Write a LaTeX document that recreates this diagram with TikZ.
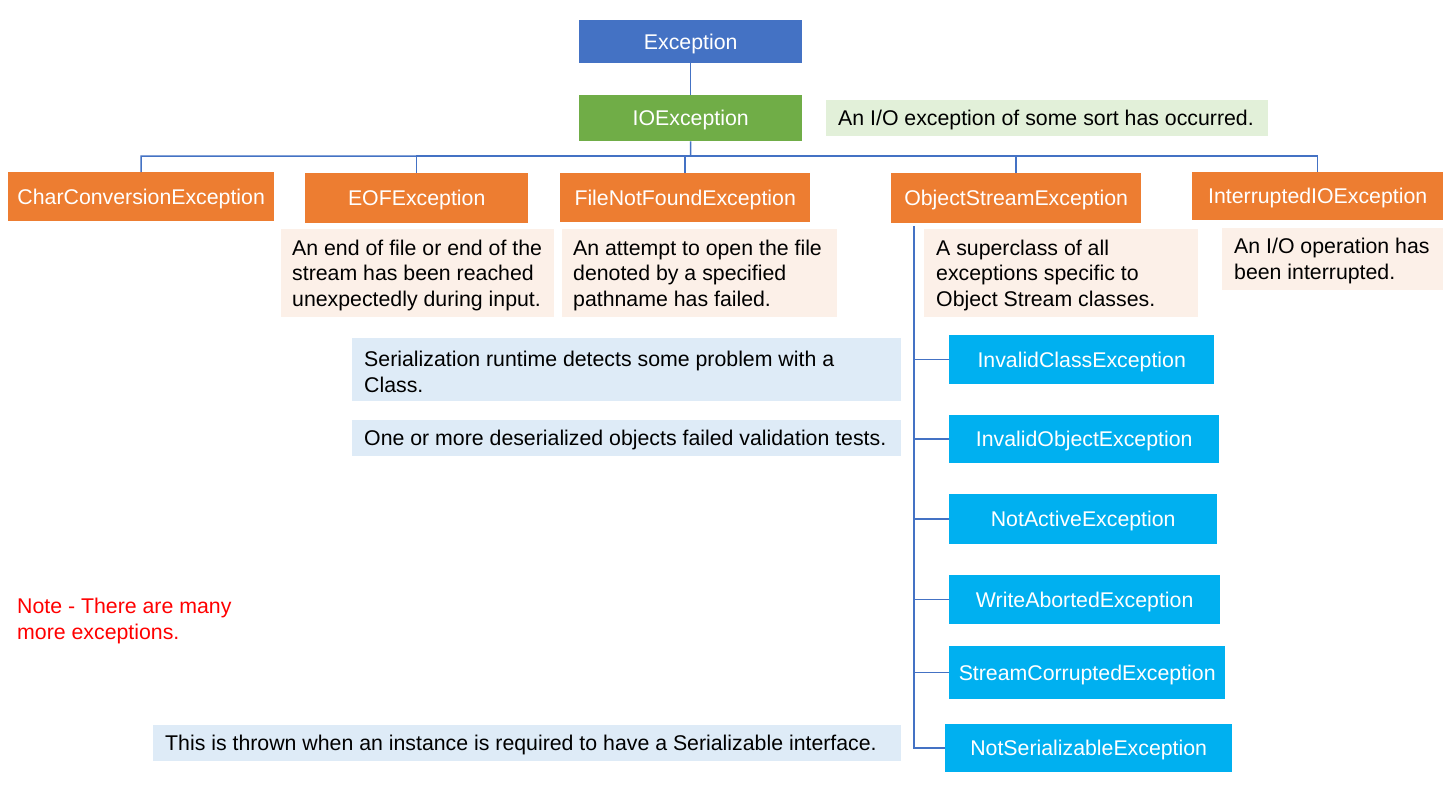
\documentclass[tikz,border=0pt]{standalone}
\usepackage{fontspec}
\setmainfont{Liberation Sans}
\newcommand\myfs{\fontsize{21.3}{25.5}\selectfont}
\definecolor{blueA}{HTML}{4472C4}
\definecolor{greenA}{HTML}{70AD47}
\definecolor{orangeA}{HTML}{ED7D31}
\definecolor{cyanA}{HTML}{00B0F0}
\definecolor{greenN}{HTML}{E2F0D9}
\definecolor{peachN}{HTML}{FCF0E8}
\definecolor{blueN}{HTML}{DEEBF7}
\definecolor{lineC}{HTML}{4472C4}
\definecolor{redT}{HTML}{FF0000}
\tikzset{
  box/.style={rectangle, inner sep=0pt, anchor=north west, text=white, font=\myfs, text height=19.5pt, text depth=4.5pt},
  cls/.style={box, fill=orangeA},
  sub/.style={box, fill=cyanA},
  notebox/.style={rectangle, inner sep=0pt, anchor=north west, draw=none},
  notetext/.style={inner sep=0pt, anchor=west, align=left, font=\myfs, text=black, yshift=-2pt},
  conn/.style={draw=lineC, line width=1.5pt},
}
\begin{document}
\begin{tikzpicture}[x=1pt,y=-1pt]
\useasboundingbox[fill=white] (0,0) rectangle (1452,788);

% main boxes
\node[box, fill=blueA, minimum width=223, minimum height=43] (exc) at (579,20) {Exception};
\node[box, fill=greenA, minimum width=223, minimum height=46] (io) at (579,95) {IOException};

\node[notebox, fill=greenN, minimum width=442, minimum height=36] (ion) at (826,100) {};
\node[notetext] (iont) at ([xshift=12]ion.west) {An I/O exception of some sort has occurred.};

% direct subclasses
\node[cls, minimum width=266, minimum height=49] (cc) at (8,172) {CharConversionException};
\node[cls, minimum width=223, minimum height=50] (eof) at (305,173) {EOFException};
\node[cls, minimum width=250, minimum height=49] (fnf) at (560,173) {FileNotFoundException};
\node[cls, minimum width=250, minimum height=50] (os) at (891,173) {ObjectStreamException};
\node[cls, minimum width=251, minimum height=48] (iio) at (1192,172) {InterruptedIOException};

% notes under subclasses
\node[notebox, fill=peachN, minimum width=273, minimum height=88] (eofn) at (281,229) {};
\node[notetext] (eofnt) at ([xshift=11]eofn.west) {An end of file or end of the\\stream has been reached\\unexpectedly during input.};
\node[notebox, fill=peachN, minimum width=275, minimum height=88] (fnfn) at (562,229) {};
\node[notetext] (fnfnt) at ([xshift=11]fnfn.west) {An attempt to open the file\\denoted by a specified\\pathname has failed.};
\node[notebox, fill=peachN, minimum width=274, minimum height=88] (osn) at (924,229) {};
\node[notetext] (osnt) at ([xshift=12]osn.west) {A superclass of all\\exceptions specific to\\Object Stream classes.};
\node[notebox, fill=peachN, minimum width=221, minimum height=62] (iion) at (1222,228) {};
\node[notetext] (iiont) at ([xshift=12]iion.west) {An I/O operation has\\been interrupted.};

% object stream subclasses
\node[sub, minimum width=265, minimum height=49] (icl) at (949,335) {InvalidClassException};
\node[sub, minimum width=270, minimum height=48] (iob) at (949,415) {InvalidObjectException};
\node[sub, minimum width=268, minimum height=50] (nac) at (949,494) {NotActiveException};
\node[sub, minimum width=271, minimum height=49] (wab) at (949,575) {WriteAbortedException};
\node[sub, minimum width=276, minimum height=53] (sco) at (949,646) {StreamCorruptedException};
\node[sub, minimum width=287, minimum height=48] (nse) at (945,724) {NotSerializableException};

% blue notes
\node[notebox, fill=blueN, minimum width=549, minimum height=63] (icln) at (352,338) {};
\node[notetext] (iclnt) at ([xshift=12]icln.west) {Serialization runtime detects some problem with a\\Class.};
\node[notebox, fill=blueN, minimum width=549, minimum height=36] (iobn) at (352,420) {};
\node[notetext] (iobnt) at ([xshift=12]iobn.west) {One or more deserialized objects failed validation tests.};
\node[notebox, fill=blueN, minimum width=748, minimum height=36] (nsen) at (153,725) {};
\node[notetext] (nsent) at ([xshift=12]nsen.west) {This is thrown when an instance is required to have a Serializable interface.};

% red note
\node[notetext, text=redT] (note) at (17,619) {Note - There are many\\more exceptions.};

% connectors
\draw[conn] (exc.south) -- (io.north);
\coordinate (bus) at (690.5,156);
\draw[conn] (io.south) -- (bus) -| (cc.north);
\draw[conn] (bus) -| (eof.north);
\draw[conn] (bus) -| (fnf.north);
\draw[conn] (bus) -| (os.north);
\draw[conn] (bus) -| (iio.north);

\coordinate (ostop) at (914,226);
\draw[conn] (ostop) |- (icl.west);
\draw[conn] (ostop) |- (iob.west);
\draw[conn] (ostop) |- (nac.west);
\draw[conn] (ostop) |- (wab.west);
\draw[conn] (ostop) |- (sco.west);
\draw[conn] (ostop) |- (nse.west);
\end{tikzpicture}
\end{document}
